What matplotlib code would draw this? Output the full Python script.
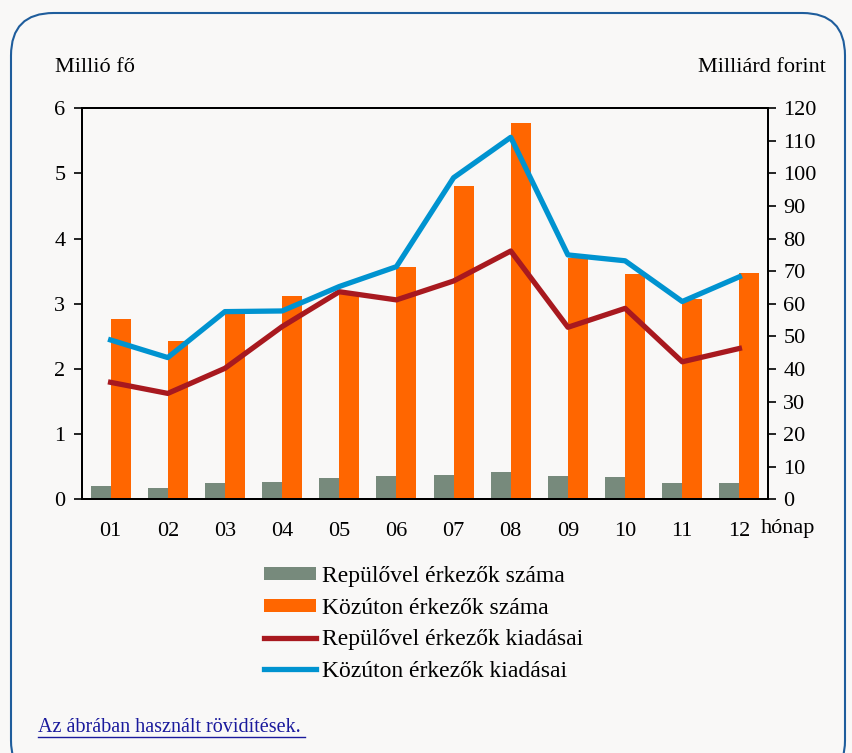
import matplotlib
matplotlib.use("Agg")
from matplotlib import pyplot as plt
from matplotlib.patches import FancyBboxPatch
import numpy as np

# havi adatok
months = ["01", "02", "03", "04", "05", "06", "07", "08", "09", "10", "11", "12"]
air_arrivals = [0.20, 0.17, 0.25, 0.27, 0.33, 0.35, 0.38, 0.42, 0.36, 0.34, 0.25, 0.25]
road_arrivals = [2.76, 2.43, 2.87, 3.12, 3.18, 3.56, 4.81, 5.77, 3.70, 3.46, 3.07, 3.47]
air_spending = [35.9, 32.5, 40.2, 53.0, 63.7, 61.2, 67.0, 76.2, 52.8, 58.6, 42.2, 46.3]
road_spending = [48.9, 43.5, 57.6, 57.8, 65.3, 71.4, 98.7, 111.1, 75.0, 73.2, 60.7, 68.3]

bg = "#f9f8f7"
fs = 16
plt.rcParams["font.family"] = ["Liberation Serif", "DejaVu Serif"]

fig = plt.figure(figsize=(8.52, 7.53), dpi=100, facecolor=bg)

# lekerekitett keret
frame = FancyBboxPatch((11 / 852, -30 / 753), 834 / 852, 770 / 753,
                       boxstyle="round,pad=0,rounding_size=0.05",
                       transform=fig.transFigure, facecolor="none",
                       edgecolor="#1f5d9c", linewidth=1.5, mutation_aspect=852 / 753)
fig.patches.append(frame)

ax = fig.add_axes([82 / 852, 1 - 499.3 / 753, 686 / 852, 391 / 753])
ax.set_facecolor(bg)
x = np.arange(len(months))
w = 0.35
ax.bar(x - w / 2, air_arrivals, w, color="#778a7c", label="Repülővel érkezők száma")
ax.bar(x + w / 2, road_arrivals, w, color="#ff6600", label="Közúton érkezők száma")
ax.set_xlim(-0.5, len(months) - 0.5)
ax.set_ylim(0, 6)
ax.set_yticks(range(0, 7))
ax.set_xticks(x)
ax.set_xticklabels(months)
ax.tick_params(axis="x", length=0, pad=16, labelsize=fs)
ax.tick_params(axis="y", direction="out", length=6, width=1.2, labelsize=fs, pad=6)
for s in ax.spines.values():
    s.set_linewidth(1.4)

ax2 = ax.twinx()
l1, = ax2.plot(x, air_spending, color="#a8191f", linewidth=3.8, label="Repülővel érkezők kiadásai")
l2, = ax2.plot(x, road_spending, color="#0093d0", linewidth=3.8, label="Közúton érkezők kiadásai")
ax2.set_ylim(0, 120)
ax2.set_yticks(range(0, 121, 10))
ax2.tick_params(axis="y", direction="out", length=6, width=1.2, labelsize=fs, pad=5)
for s in ax2.spines.values():
    s.set_linewidth(1.4)

fig.text(55 / 852, 1 - 67 / 753, "Millió fő", fontsize=fs, va="center")
fig.text(826 / 852, 1 - 67 / 753, "Milliárd forint", fontsize=fs, va="center", ha="right")
fig.text(761 / 852, 1 - 529 / 753, "hónap", fontsize=fs, va="center")

h1, lab1 = ax.get_legend_handles_labels()
leg = fig.legend(h1 + [l1, l2], lab1 + [l1.get_label(), l2.get_label()],
                 loc="center", bbox_to_anchor=(424 / 852, 1 - 624 / 753),
                 frameon=False, fontsize=17, handlelength=2.2, handleheight=0.5,
                 labelspacing=0.45, handletextpad=0.25)

fig.text(38 / 852, 1 - 727 / 753, "Az ábrában használt rövidítések.", fontsize=14.5,
         color="#1a1a9c", va="center")
fig.add_artist(plt.Line2D([38 / 852, 305 / 852], [1 - 737 / 753, 1 - 737 / 753],
                          color="#1a1a9c", linewidth=1, transform=fig.transFigure))

fig.savefig("out.png", dpi=100, facecolor=bg)
